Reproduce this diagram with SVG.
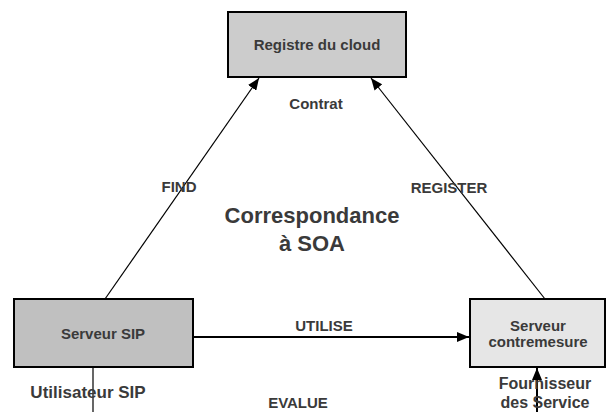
<svg xmlns="http://www.w3.org/2000/svg" width="608" height="412" viewBox="0 0 608 412">
<style>
.box{stroke:#000;stroke-width:2}
.t{font-family:"Liberation Sans",Arial,sans-serif;font-weight:bold;fill:#3a3a3a;text-anchor:middle;font-size:15px}
.big{font-size:17px}
.mid{font-size:16px}
.title{font-size:22px}
.ln{stroke:#000;fill:none}
</style>
<defs>
<marker id="ah" markerWidth="12" markerHeight="10" refX="12" refY="5" orient="auto" markerUnits="userSpaceOnUse">
<path d="M0,0 L12,5 L0,10 Z" fill="#000"/>
</marker>
</defs>
<rect width="608" height="412" fill="#fff"/>
<g id="connectors">
<line class="ln" x1="105" y1="299" x2="259" y2="78" stroke-width="1.2" marker-end="url(#ah)"/>
<line class="ln" x1="545" y1="299" x2="371" y2="78" stroke-width="1.2" marker-end="url(#ah)"/>
<line class="ln" x1="193" y1="337" x2="469" y2="337" stroke-width="2" marker-end="url(#ah)"/>
<line class="ln" x1="93" y1="367" x2="93" y2="412" stroke-width="1.2"/>
<line class="ln" x1="537" y1="412" x2="537" y2="368" stroke-width="2" marker-end="url(#ah)"/>
</g>
<g id="registre">
<rect class="box" x="228" y="12" width="178" height="65" fill="#cccccc"/>
<text class="t" x="317" y="50">Registre du cloud</text>
</g>
<g id="serveur-sip">
<rect class="box" x="14" y="299" width="179" height="68" fill="#c0c0c0"/>
<text class="t" x="103" y="339">Serveur SIP</text>
</g>
<g id="serveur-contremesure">
<rect class="box" x="470" y="299" width="135" height="68" fill="#e6e6e6"/>
<text class="t" x="538" y="331">Serveur</text>
<text class="t" x="538" y="347">contremesure</text>
</g>
<g id="labels">
<text class="t" x="316" y="109">Contrat</text>
<text class="t" x="179" y="192">FIND</text>
<text class="t" x="449" y="193">REGISTER</text>
<text class="t title" x="312" y="223">Correspondance</text>
<text class="t title" x="312" y="251">à SOA</text>
<text class="t" x="324" y="331">UTILISE</text>
<text class="t" x="298" y="408">EVALUE</text>
<text class="t big" x="88" y="398">Utilisateur SIP</text>
<text class="t mid" x="545" y="389">Fournisseur</text>
<text class="t mid" x="545" y="408">des Service</text>
</g>
</svg>
